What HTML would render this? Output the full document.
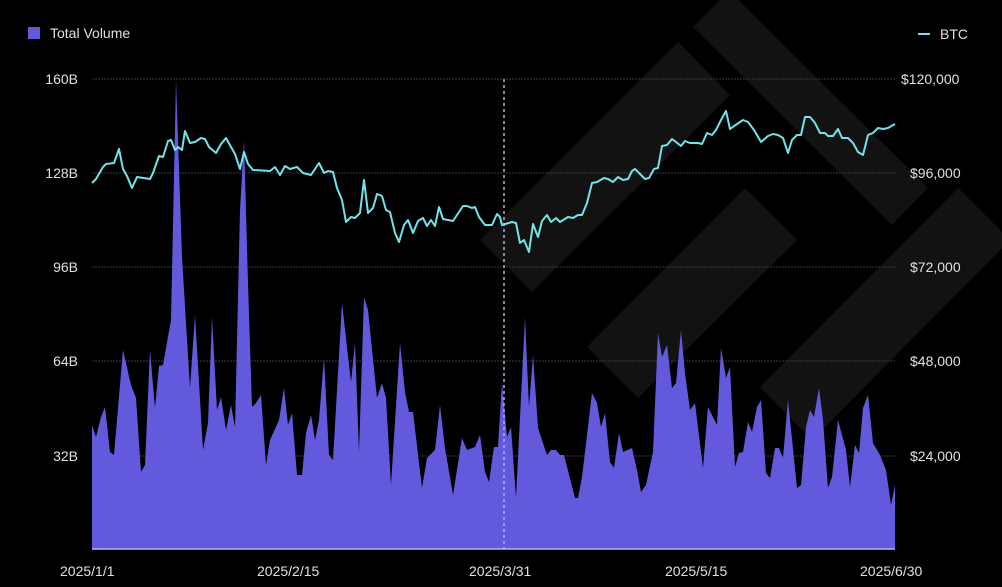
<!DOCTYPE html>
<html><head><meta charset="utf-8"><style>
html,body{margin:0;padding:0;background:#000;}
svg{display:block;}
text{font-family:"Liberation Sans",sans-serif;fill:#e0e0e0;font-size:14px;}
</style></head><body>
<svg width="1002" height="587" viewBox="0 0 1002 587" xmlns="http://www.w3.org/2000/svg">
<rect width="1002" height="587" fill="#000"/>
<g fill="#121212">
<polygon points="693,27 729,-9 928,188 892,225"/>
<polygon points="480,240 678,42 730,95 532,292"/>
<polygon points="587,347 745,188 797,240 638,398"/>
<polygon points="760,387 958,188 1010,240 812,440"/>
</g>
<g stroke="#3a3a3a" stroke-width="1" stroke-dasharray="2,1">
<line x1="92" y1="79" x2="895" y2="79"/>
<line x1="92" y1="173" x2="895" y2="173"/>
<line x1="92" y1="267" x2="895" y2="267"/>
<line x1="92" y1="361" x2="895" y2="361"/>
<line x1="92" y1="456" x2="895" y2="456"/>
</g>
<polygon fill="#6359dc" points="92,549 92,425 96,437 101,417 105,407 110,452 114,455 123,350 131,385 136,398 141,472 145,465 150,350 155,408 159,366 163,365 171,320 176,80 182,257 190,388 195,315 203,450 208,423 212,317 217,410 221,397 226,430 231,405 235,427 240,210 244,140 248,283 252,407 256,403 261,395 266,465 270,440 279,420 284,388 288,425 292,413 297,475 302,475 306,433 311,415 315,440 319,420 324,358 329,455 333,460 342,303 351,382 355,343 359,452 364,297 368,310 377,398 382,383 386,398 391,485 400,343 405,392 409,412 413,412 422,488 427,458 435,450 440,405 445,448 453,495 462,438 467,450 475,447 480,435 485,472 489,482 494,447 498,447 502,382 507,437 511,427 516,498 525,317 529,407 533,355 538,428 547,455 551,450 556,450 560,455 564,455 575,498 578,498 582,477 592,393 597,403 601,427 605,413 610,462 614,468 619,433 623,452 632,448 637,470 641,492 646,485 653,452 658,333 662,357 667,345 672,388 676,383 681,330 685,373 690,410 695,403 703,468 708,407 717,425 721,348 726,378 730,367 735,467 739,453 743,452 748,422 752,432 757,407 761,400 766,473 770,478 775,448 779,448 783,458 788,400 797,488 801,485 806,427 810,410 814,417 819,388 823,420 828,488 832,477 838,420 846,450 850,487 855,445 859,453 863,408 868,395 873,443 880,455 886,470 891,505 895,485 895,549"/>
<line x1="92" y1="549" x2="895" y2="549" stroke="#b9b3ee" stroke-width="1.5"/>
<line x1="504" y1="79" x2="504" y2="549" stroke="#b4acec" stroke-width="1.5" stroke-dasharray="3,3"/>
<polyline fill="none" stroke="#70e4ea" stroke-width="2" stroke-linejoin="round" points="92,183 96,179 103,167 106,164 114,163 119,149 123,169 127,176 132,188 137,177 150,179 153,173 159,156 163,157 168,141 171,140 175,150 178,147 182,150 185,131 190,143 195,142 201,138 205,139 209,147 216,153 221,144 226,138 231,147 235,154 240,169 244,152 248,164 253,170 270,171 275,167 280,175 285,166 290,169 297,167 303,173 311,175 319,163 324,173 328,171 333,172 337,188 342,200 346,222 351,217 355,218 360,213 364,180 368,213 373,208 377,194 382,196 386,210 390,212 395,233 399,242 404,225 408,220 413,233 418,221 423,218 427,226 431,220 435,226 439,207 443,219 453,221 463,206 467,206 472,208 475,207 479,217 485,225 492,225 497,214 500,217 502,225 512,222 516,223 520,243 524,240 529,252 533,224 538,237 542,221 547,215 551,222 556,218 560,222 568,217 573,218 578,215 582,215 587,203 592,183 597,182 604,178 608,179 613,182 618,177 623,180 628,179 632,171 635,169 639,173 645,179 649,178 654,169 658,168 662,146 667,145 672,139 676,142 681,146 685,141 690,143 698,143 702,144 707,133 712,135 716,130 721,120 726,111 730,129 737,124 743,120 748,122 754,130 761,142 768,136 773,134 778,135 783,138 788,153 792,140 797,135 801,135 805,117 810,117 815,123 820,133 825,133 828,136 833,136 838,129 842,138 848,138 853,143 858,152 863,155 868,135 873,133 878,128 883,129 888,128 895,124"/>
<g text-anchor="end">
<text x="78" y="84">160B</text>
<text x="78" y="178">128B</text>
<text x="78" y="272">96B</text>
<text x="78" y="366">64B</text>
<text x="78" y="461">32B</text>
</g>
<g text-anchor="start">
<text x="901" y="84">$120,000</text>
<text x="910" y="178">$96,000</text>
<text x="910" y="272">$72,000</text>
<text x="910" y="366">$48,000</text>
<text x="910" y="461">$24,000</text>
</g>
<text x="60" y="576">2025/1/1</text>
<text x="257" y="576">2025/2/15</text>
<text x="469" y="576">2025/3/31</text>
<text x="665" y="576">2025/5/15</text>
<text x="860" y="576">2025/6/30</text>
<rect x="28" y="27" width="12" height="12" fill="#6359dc"/>
<text x="50" y="38">Total Volume</text>
<line x1="918" y1="34" x2="930" y2="34" stroke="#70e4ea" stroke-width="2"/>
<text x="940" y="39">BTC</text>
</svg>
</body></html>
